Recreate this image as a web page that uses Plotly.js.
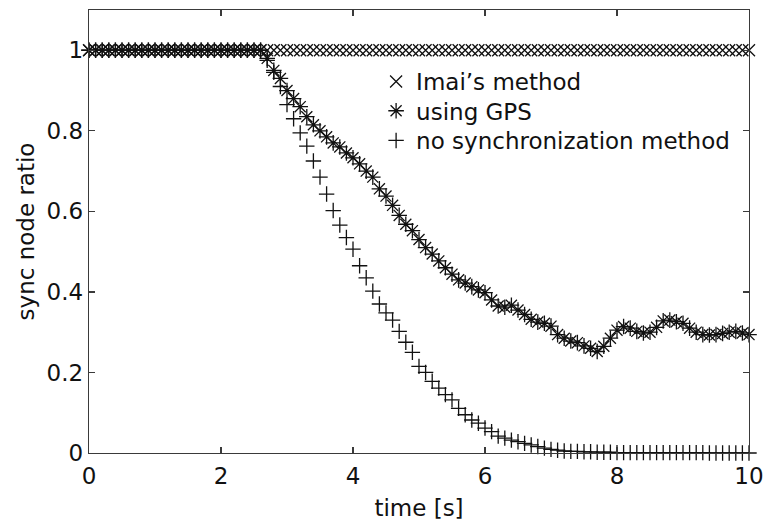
<!DOCTYPE html>
<html>
<head>
<meta charset="utf-8">
<script src="https://cdn.plot.ly/plotly-3.0.1.min.js"></script>
<style>
  html, body { margin: 0; padding: 0; background: #fff; }
  #chart { width: 763px; height: 521px; }
</style>
</head>
<body>
<div id="chart"></div>
<script>
// Sampling instants [s]
const time = [
  0.0, 0.1, 0.2, 0.3, 0.4, 0.5, 0.6, 0.7, 0.8, 0.9,
  1.0, 1.1, 1.2, 1.3, 1.4, 1.5, 1.6, 1.7, 1.8, 1.9,
  2.0, 2.1, 2.2, 2.3, 2.4, 2.5, 2.6, 2.7, 2.8, 2.9,
  3.0, 3.1, 3.2, 3.3, 3.4, 3.5, 3.6, 3.7, 3.8, 3.9,
  4.0, 4.1, 4.2, 4.3, 4.4, 4.5, 4.6, 4.7, 4.8, 4.9,
  5.0, 5.1, 5.2, 5.3, 5.4, 5.5, 5.6, 5.7, 5.8, 5.9,
  6.0, 6.1, 6.2, 6.3, 6.4, 6.5, 6.6, 6.7, 6.8, 6.9,
  7.0, 7.1, 7.2, 7.3, 7.4, 7.5, 7.6, 7.7, 7.8, 7.9,
  8.0, 8.1, 8.2, 8.3, 8.4, 8.5, 8.6, 8.7, 8.8, 8.9,
  9.0, 9.1, 9.2, 9.3, 9.4, 9.5, 9.6, 9.7, 9.8, 9.9,
  10.0
];

// Sync node ratio, Imai's method
const imaiRatio = [
  1, 1, 1, 1, 1, 1, 1, 1, 1, 1,
  1, 1, 1, 1, 1, 1, 1, 1, 1, 1,
  1, 1, 1, 1, 1, 1, 1, 1, 1, 1,
  1, 1, 1, 1, 1, 1, 1, 1, 1, 1,
  1, 1, 1, 1, 1, 1, 1, 1, 1, 1,
  1, 1, 1, 1, 1, 1, 1, 1, 1, 1,
  1, 1, 1, 1, 1, 1, 1, 1, 1, 1,
  1, 1, 1, 1, 1, 1, 1, 1, 1, 1,
  1, 1, 1, 1, 1, 1, 1, 1, 1, 1,
  1, 1, 1, 1, 1, 1, 1, 1, 1, 1,
  1
];

// Sync node ratio, using GPS
const gpsRatio = [
  1, 1, 1, 1, 1, 1, 1, 1, 1, 1,
  1, 1, 1, 1, 1, 1, 1, 1, 1, 1,
  1, 1, 1, 1, 1, 1, 1, 0.98, 0.95, 0.93,
  0.90, 0.88, 0.86, 0.835, 0.815, 0.80, 0.785, 0.77, 0.76, 0.745,
  0.733, 0.718, 0.70, 0.685, 0.656, 0.638, 0.615, 0.59, 0.568, 0.552,
  0.53, 0.51, 0.494, 0.477, 0.46, 0.444, 0.43, 0.422, 0.413, 0.405,
  0.398, 0.38, 0.365, 0.362, 0.367, 0.355, 0.344, 0.332, 0.325, 0.322,
  0.315, 0.294, 0.285, 0.278, 0.274, 0.266, 0.26, 0.252, 0.265, 0.285,
  0.305, 0.314, 0.31, 0.302, 0.298, 0.30, 0.312, 0.328, 0.33, 0.326,
  0.322, 0.31, 0.30, 0.294, 0.293, 0.294, 0.297, 0.30, 0.302, 0.298,
  0.294
];

// Sync node ratio, no synchronization method
const noSyncRatio = [
  1, 1, 1, 1, 1, 1, 1, 1, 1, 1,
  1, 1, 1, 1, 1, 1, 1, 1, 1, 1,
  1, 1, 1, 1, 1, 1, 1, 0.975, 0.945, 0.91,
  0.865, 0.83, 0.795, 0.762, 0.725, 0.685, 0.643, 0.602, 0.566, 0.535,
  0.506, 0.465, 0.435, 0.402, 0.37, 0.348, 0.33, 0.302, 0.275, 0.25,
  0.215, 0.2, 0.178, 0.161, 0.145, 0.132, 0.111, 0.095, 0.082, 0.074,
  0.062, 0.053, 0.042, 0.037, 0.032, 0.028, 0.024, 0.02, 0.016, 0.012,
  0.009, 0.007, 0.005, 0.004, 0.004, 0.003, 0.003, 0.002, 0.002, 0.002,
  0.001, 0.001, 0.001, 0.001, 0.001, 0.001, 0.001, 0.001, 0.001, 0.001,
  0.001, 0.001, 0.001, 0.001, 0, 0, 0, 0, 0, 0,
  0
];

const seriesNames = ["Imai\u2019s method", "using GPS", "no synchronization method"];
const xTicks = [0, 2, 4, 6, 8, 10];
const yTicks = [0, 0.2, 0.4, 0.6, 0.8, 1];

const FONT = "DejaVu Sans, Arial, sans-serif";
const INK = "#111111";
const AXIS = "#3a3a3a";

function markerTrace(y, name, symbol, size, legendId) {
  return {
    type: "scatter",
    mode: "markers",
    x: time,
    y: y,
    name: name,
    legend: legendId,
    cliponaxis: false,
    marker: {
      symbol: symbol,
      size: size,
      color: INK,
      line: { color: INK, width: 1.3 }
    }
  };
}

const traces = [
  markerTrace(imaiRatio, seriesNames[0], "x-thin-open", 12, "legend"),
  markerTrace(gpsRatio, seriesNames[1], "asterisk-open", 13, "legend2"),
  markerTrace(noSyncRatio, seriesNames[2], "cross-thin-open", 11, "legend3")
];

// One legend box per entry so the rows can sit closer than the default spacing
function legendBox(yTop) {
  return {
    x: 0.435,
    y: yTop,
    xanchor: "left",
    yanchor: "top",
    bgcolor: "rgba(0,0,0,0)",
    borderwidth: 0,
    itemwidth: 30,
    font: { family: FONT, size: 23, color: INK }
  };
}

const axisCommon = {
  showline: true,
  linecolor: AXIS,
  linewidth: 1.3,
  mirror: "ticks",
  ticks: "inside",
  ticklen: 6,
  tickwidth: 1.2,
  tickcolor: AXIS,
  showgrid: false,
  zeroline: false,
  ticklabeloverflow: "allow",
  tickfont: { family: FONT, size: 23, color: INK }
};

const layout = {
  width: 763,
  height: 521,
  paper_bgcolor: "#ffffff",
  plot_bgcolor: "#ffffff",
  margin: { l: 88.5, r: 13.5, t: 10, b: 68 },
  font: { family: FONT, size: 23, color: INK },
  showlegend: true,
  legend: legendBox(0.887),
  legend2: legendBox(0.821),
  legend3: legendBox(0.754),
  xaxis: Object.assign({}, axisCommon, {
    range: [0, 10],
    tickvals: xTicks,
    ticktext: xTicks.map(String),
    ticklabelstandoff: 2,
    title: { text: "time [s]", font: { family: FONT, size: 23, color: INK }, standoff: 16 }
  }),
  yaxis: Object.assign({}, axisCommon, {
    range: [0, 1.1],
    tickvals: yTicks,
    ticktext: yTicks.map(String),
    title: { text: "sync node ratio", font: { family: FONT, size: 23, color: INK }, standoff: 5 }
  })
};

Plotly.newPlot("chart", traces, layout, { displayModeBar: false, staticPlot: true });
</script>
</body>
</html>
